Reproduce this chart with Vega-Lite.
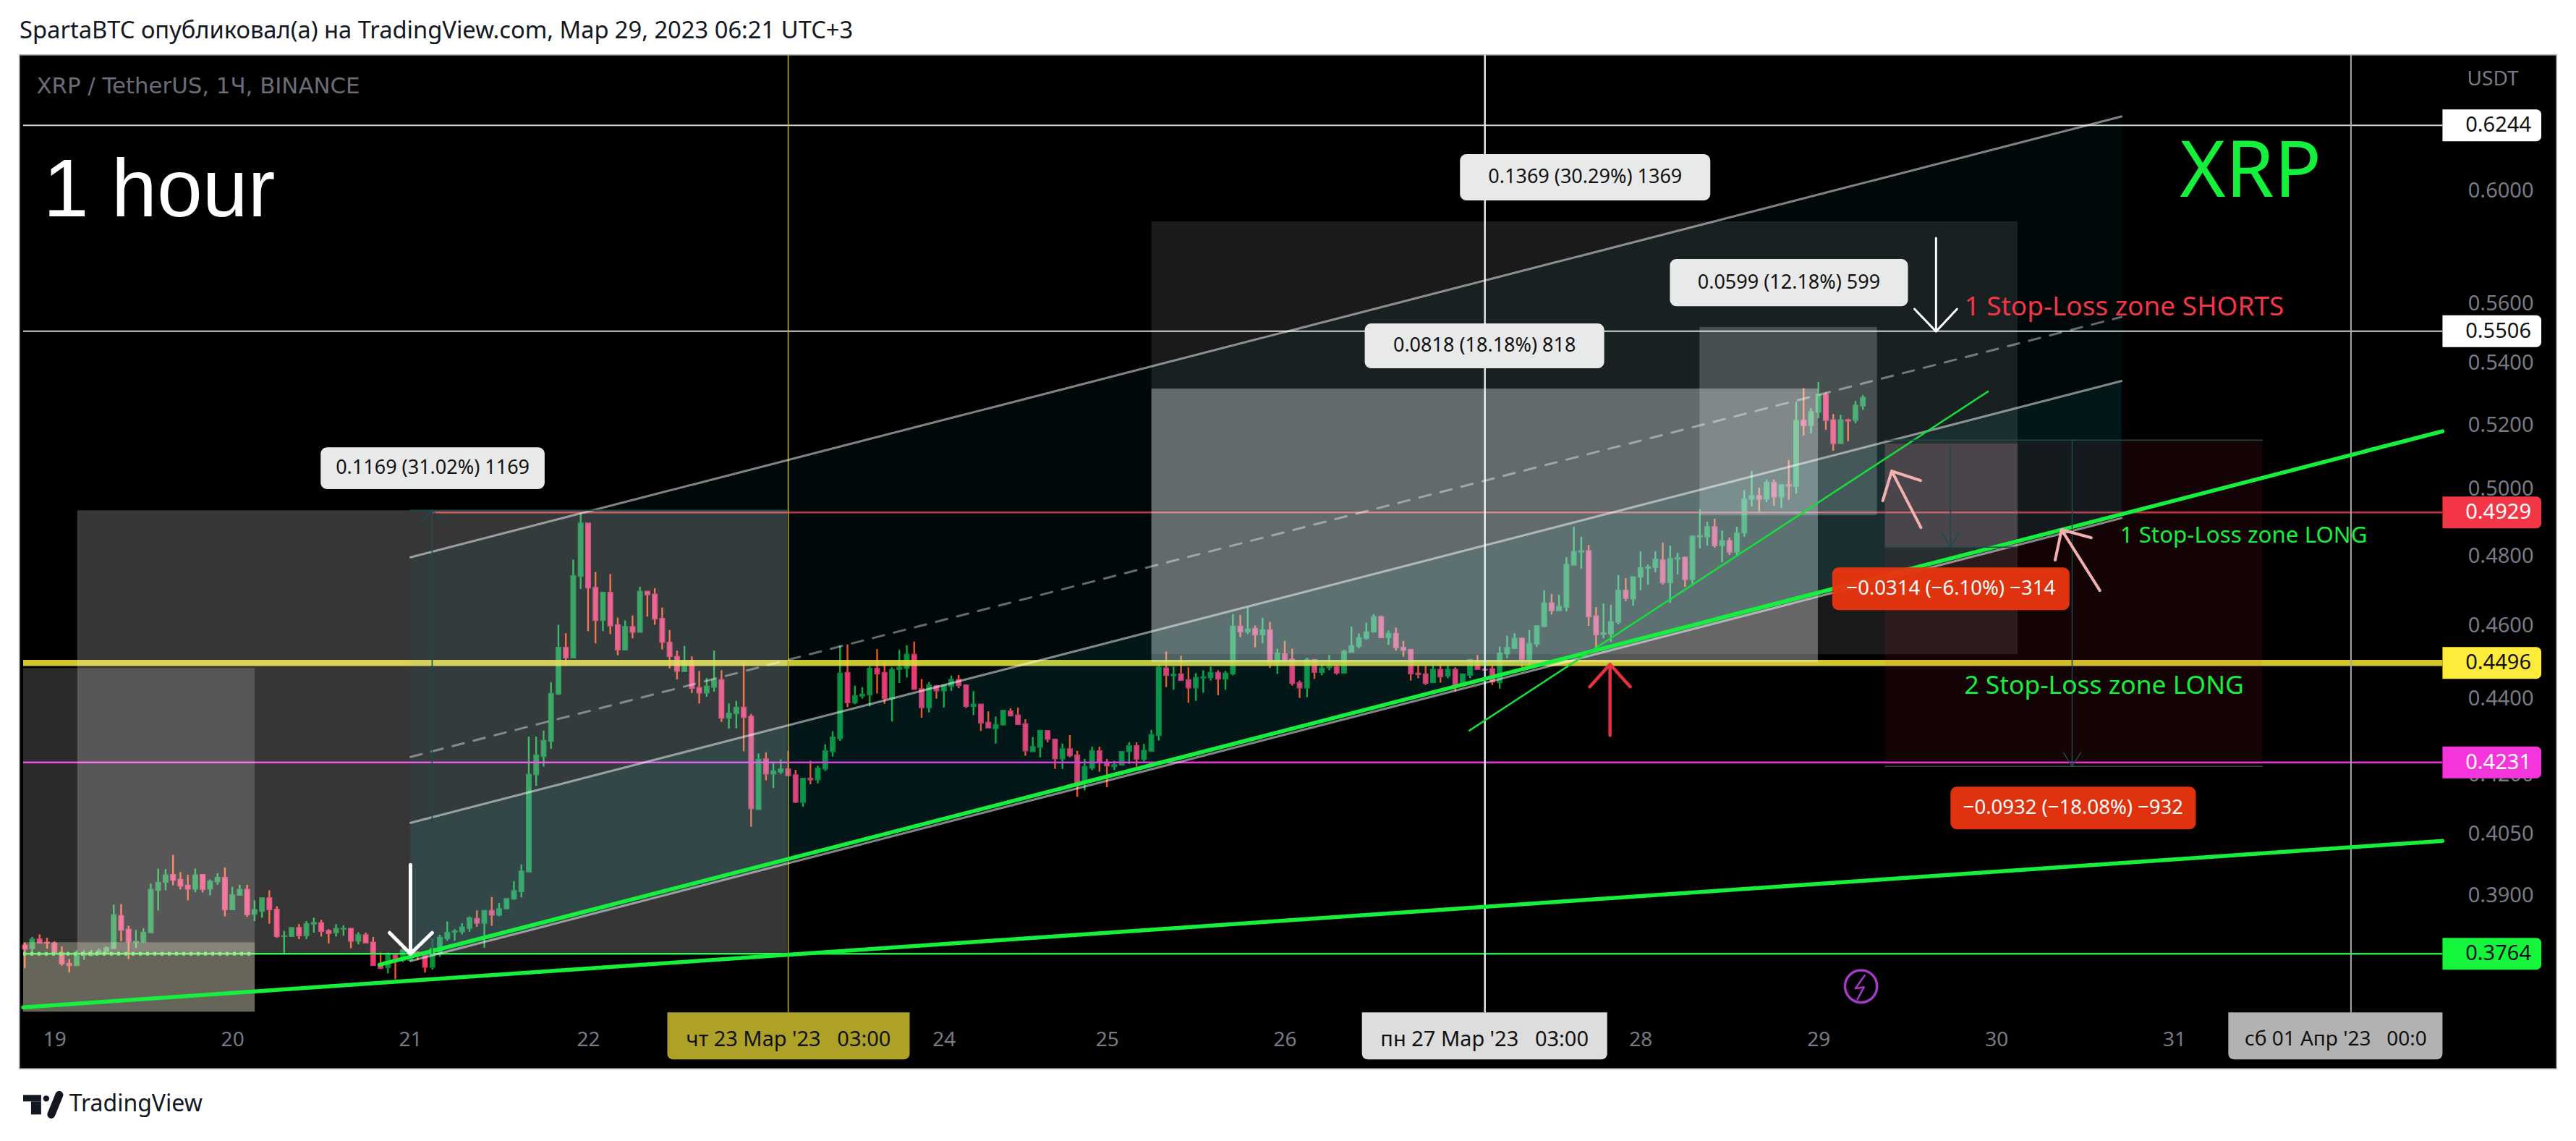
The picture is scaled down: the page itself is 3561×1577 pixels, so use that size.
{
"$schema":"https://vega.github.io/schema/vega-lite/v6.json",
"autosize":{"type":"none"},
"width":3507,"height":1401,
"padding":{"left":27,"top":76,"right":27,"bottom":100},
"background":"#ffffff",
"view":{"fill":"#000000","stroke":"#9598a1","strokeWidth":1.5},
"title":{"text":"SpartaBTC опубликовал(а) на TradingView.com, Мар 29, 2023 06:21 UTC+3","anchor":"start","frame":"group","font":"Noto Sans","fontSize":32.7,"fontWeight":"normal","color":"#131722","offset":11},
"resolve":{"scale":{"color":"independent","fill":"independent","stroke":"independent","strokeWidth":"independent","strokeDash":"independent","size":"independent","opacity":"independent"}},
"datasets":{
"candles":[
{"i":-4,"o":0.3784,"h":0.3790,"l":0.3731,"c":0.3775},{"i":-3,"o":0.3776,"h":0.3803,"l":0.3763,"c":0.3798},{"i":-2,"o":0.3798,"h":0.3809,"l":0.3788,"c":0.3789},{"i":-1,"o":0.3791,"h":0.3801,"l":0.3776,"c":0.3789},
{"i":0,"o":0.3789,"h":0.3793,"l":0.3765,"c":0.3765},{"i":1,"o":0.3767,"h":0.3781,"l":0.3737,"c":0.3741},{"i":2,"o":0.3742,"h":0.3752,"l":0.3721,"c":0.3737},{"i":3,"o":0.3737,"h":0.3772,"l":0.3736,"c":0.3761},
{"i":4,"o":0.3761,"h":0.3772,"l":0.3750,"c":0.3763},{"i":5,"o":0.3761,"h":0.3773,"l":0.3758,"c":0.3763},{"i":6,"o":0.3763,"h":0.3776,"l":0.3761,"c":0.3771},{"i":7,"o":0.3768,"h":0.3781,"l":0.3766,"c":0.3778},
{"i":8,"o":0.3776,"h":0.3879,"l":0.3776,"c":0.3855},{"i":9,"o":0.3853,"h":0.3880,"l":0.3793,"c":0.3819},{"i":10,"o":0.3821,"h":0.3829,"l":0.3752,"c":0.3791},{"i":11,"o":0.3790,"h":0.3819,"l":0.3777,"c":0.3793},
{"i":12,"o":0.3791,"h":0.3823,"l":0.3789,"c":0.3814},{"i":13,"o":0.3813,"h":0.3929,"l":0.3813,"c":0.3915},{"i":14,"o":0.3913,"h":0.3965,"l":0.3865,"c":0.3932},{"i":15,"o":0.3932,"h":0.3964,"l":0.3913,"c":0.3950},
{"i":16,"o":0.3951,"h":0.3999,"l":0.3925,"c":0.3937},{"i":17,"o":0.3939,"h":0.3957,"l":0.3915,"c":0.3923},{"i":18,"o":0.3925,"h":0.3950,"l":0.3889,"c":0.3916},{"i":19,"o":0.3916,"h":0.3965,"l":0.3908,"c":0.3950},
{"i":20,"o":0.3951,"h":0.3951,"l":0.3908,"c":0.3915},{"i":21,"o":0.3916,"h":0.3939,"l":0.3901,"c":0.3935},{"i":22,"o":0.3933,"h":0.3954,"l":0.3926,"c":0.3944},{"i":23,"o":0.3944,"h":0.3968,"l":0.3851,"c":0.3867},
{"i":24,"o":0.3867,"h":0.3921,"l":0.3867,"c":0.3902},{"i":25,"o":0.3901,"h":0.3926,"l":0.3900,"c":0.3915},{"i":26,"o":0.3915,"h":0.3926,"l":0.3850,"c":0.3855},{"i":27,"o":0.3856,"h":0.3889,"l":0.3840,"c":0.3867},
{"i":28,"o":0.3863,"h":0.3895,"l":0.3848,"c":0.3895},{"i":29,"o":0.3895,"h":0.3913,"l":0.3834,"c":0.3867},{"i":30,"o":0.3868,"h":0.3875,"l":0.3801,"c":0.3804},{"i":31,"o":0.3804,"h":0.3817,"l":0.3766,"c":0.3806},
{"i":32,"o":0.3804,"h":0.3825,"l":0.3804,"c":0.3825},{"i":33,"o":0.3825,"h":0.3833,"l":0.3798,"c":0.3806},{"i":34,"o":0.3806,"h":0.3840,"l":0.3798,"c":0.3834},{"i":35,"o":0.3833,"h":0.3848,"l":0.3813,"c":0.3837},
{"i":36,"o":0.3836,"h":0.3843,"l":0.3804,"c":0.3816},{"i":37,"o":0.3818,"h":0.3821,"l":0.3788,"c":0.3811},{"i":38,"o":0.3813,"h":0.3833,"l":0.3804,"c":0.3823},{"i":39,"o":0.3821,"h":0.3830,"l":0.3806,"c":0.3823},
{"i":40,"o":0.3823,"h":0.3823,"l":0.3777,"c":0.3793},{"i":41,"o":0.3793,"h":0.3814,"l":0.3786,"c":0.3808},{"i":42,"o":0.3808,"h":0.3813,"l":0.3788,"c":0.3789},{"i":43,"o":0.3791,"h":0.3803,"l":0.3737,"c":0.3737},
{"i":44,"o":0.3739,"h":0.3767,"l":0.3729,"c":0.3731},{"i":45,"o":0.3732,"h":0.3767,"l":0.3719,"c":0.3762},{"i":46,"o":0.3762,"h":0.3762,"l":0.3706,"c":0.3746},{"i":47,"o":0.3749,"h":0.3776,"l":0.3745,"c":0.3773},
{"i":48,"o":0.3749,"h":0.3775,"l":0.3747,"c":0.3766},{"i":49,"o":0.3768,"h":0.3770,"l":0.3749,"c":0.3759},{"i":50,"o":0.3761,"h":0.3766,"l":0.3721,"c":0.3733},{"i":51,"o":0.3733,"h":0.3799,"l":0.3728,"c":0.3777},
{"i":52,"o":0.3763,"h":0.3808,"l":0.3757,"c":0.3802},{"i":53,"o":0.3799,"h":0.3839,"l":0.3794,"c":0.3814},{"i":54,"o":0.3814,"h":0.3821,"l":0.3794,"c":0.3817},{"i":55,"o":0.3815,"h":0.3835,"l":0.3809,"c":0.3826},
{"i":56,"o":0.3823,"h":0.3851,"l":0.3815,"c":0.3848},{"i":57,"o":0.3846,"h":0.3865,"l":0.3827,"c":0.3835},{"i":58,"o":0.3835,"h":0.3865,"l":0.3778,"c":0.3865},{"i":59,"o":0.3865,"h":0.3897,"l":0.3829,"c":0.3854},
{"i":60,"o":0.3854,"h":0.3883,"l":0.3851,"c":0.3869},{"i":61,"o":0.3869,"h":0.3893,"l":0.3868,"c":0.3893},{"i":62,"o":0.3892,"h":0.3935,"l":0.3890,"c":0.3912},{"i":63,"o":0.3910,"h":0.3975,"l":0.3896,"c":0.3959},
{"i":64,"o":0.3957,"h":0.4298,"l":0.3957,"c":0.4200},{"i":65,"o":0.4199,"h":0.4298,"l":0.4171,"c":0.4250},{"i":66,"o":0.4246,"h":0.4314,"l":0.4220,"c":0.4288},{"i":67,"o":0.4286,"h":0.4443,"l":0.4266,"c":0.4413},
{"i":68,"o":0.4411,"h":0.4602,"l":0.4409,"c":0.4539},{"i":69,"o":0.4539,"h":0.4578,"l":0.4490,"c":0.4510},{"i":70,"o":0.4510,"h":0.4789,"l":0.4510,"c":0.4742},{"i":71,"o":0.4740,"h":0.4929,"l":0.4704,"c":0.4897},
{"i":72,"o":0.4897,"h":0.4897,"l":0.4584,"c":0.4707},{"i":73,"o":0.4708,"h":0.4753,"l":0.4550,"c":0.4614},{"i":74,"o":0.4614,"h":0.4696,"l":0.4584,"c":0.4694},{"i":75,"o":0.4694,"h":0.4747,"l":0.4576,"c":0.4599},
{"i":76,"o":0.4602,"h":0.4622,"l":0.4517,"c":0.4532},{"i":77,"o":0.4532,"h":0.4614,"l":0.4532,"c":0.4597},{"i":78,"o":0.4597,"h":0.4628,"l":0.4564,"c":0.4581},{"i":79,"o":0.4581,"h":0.4710,"l":0.4581,"c":0.4697},
{"i":80,"o":0.4697,"h":0.4697,"l":0.4625,"c":0.4687},{"i":81,"o":0.4689,"h":0.4706,"l":0.4602,"c":0.4618},{"i":82,"o":0.4620,"h":0.4651,"l":0.4533,"c":0.4553},{"i":83,"o":0.4553,"h":0.4587,"l":0.4481,"c":0.4514},
{"i":84,"o":0.4514,"h":0.4530,"l":0.4451,"c":0.4473},{"i":85,"o":0.4472,"h":0.4543,"l":0.4471,"c":0.4503},{"i":86,"o":0.4503,"h":0.4514,"l":0.4414,"c":0.4427},{"i":87,"o":0.4429,"h":0.4474,"l":0.4386,"c":0.4414},
{"i":88,"o":0.4414,"h":0.4455,"l":0.4404,"c":0.4433},{"i":89,"o":0.4430,"h":0.4530,"l":0.4418,"c":0.4450},{"i":90,"o":0.4450,"h":0.4476,"l":0.4337,"c":0.4347},{"i":91,"o":0.4347,"h":0.4386,"l":0.4319,"c":0.4360},
{"i":92,"o":0.4359,"h":0.4393,"l":0.4320,"c":0.4376},{"i":93,"o":0.4376,"h":0.4501,"l":0.4260,"c":0.4349},{"i":94,"o":0.4352,"h":0.4358,"l":0.4068,"c":0.4113},{"i":95,"o":0.4111,"h":0.4254,"l":0.4110,"c":0.4239},
{"i":96,"o":0.4240,"h":0.4257,"l":0.4185,"c":0.4201},{"i":97,"o":0.4201,"h":0.4229,"l":0.4165,"c":0.4209},{"i":98,"o":0.4206,"h":0.4239,"l":0.4201,"c":0.4214},{"i":99,"o":0.4214,"h":0.4261,"l":0.4197,"c":0.4197},
{"i":100,"o":0.4199,"h":0.4212,"l":0.4127,"c":0.4129},{"i":101,"o":0.4129,"h":0.4190,"l":0.4118,"c":0.4190},{"i":102,"o":0.4190,"h":0.4235,"l":0.4175,"c":0.4186},{"i":103,"o":0.4186,"h":0.4222,"l":0.4177,"c":0.4216},
{"i":104,"o":0.4214,"h":0.4278,"l":0.4209,"c":0.4261},{"i":105,"o":0.4259,"h":0.4312,"l":0.4246,"c":0.4297},{"i":106,"o":0.4293,"h":0.4544,"l":0.4287,"c":0.4468},{"i":107,"o":0.4470,"h":0.4547,"l":0.4376,"c":0.4388},
{"i":108,"o":0.4388,"h":0.4434,"l":0.4384,"c":0.4407},{"i":109,"o":0.4406,"h":0.4430,"l":0.4399,"c":0.4411},{"i":110,"o":0.4409,"h":0.4487,"l":0.4378,"c":0.4481},{"i":111,"o":0.4481,"h":0.4534,"l":0.4413,"c":0.4466},
{"i":112,"o":0.4470,"h":0.4500,"l":0.4385,"c":0.4399},{"i":113,"o":0.4399,"h":0.4484,"l":0.4338,"c":0.4478},{"i":114,"o":0.4478,"h":0.4532,"l":0.4441,"c":0.4484},{"i":115,"o":0.4481,"h":0.4545,"l":0.4456,"c":0.4520},
{"i":116,"o":0.4520,"h":0.4555,"l":0.4424,"c":0.4424},{"i":117,"o":0.4426,"h":0.4452,"l":0.4348,"c":0.4375},{"i":118,"o":0.4375,"h":0.4444,"l":0.4362,"c":0.4436},{"i":119,"o":0.4434,"h":0.4436,"l":0.4399,"c":0.4420},
{"i":120,"o":0.4420,"h":0.4436,"l":0.4375,"c":0.4436},{"i":121,"o":0.4432,"h":0.4461,"l":0.4420,"c":0.4451},{"i":122,"o":0.4451,"h":0.4463,"l":0.4427,"c":0.4434},{"i":123,"o":0.4436,"h":0.4438,"l":0.4374,"c":0.4378},
{"i":124,"o":0.4378,"h":0.4419,"l":0.4355,"c":0.4384},{"i":125,"o":0.4384,"h":0.4384,"l":0.4313,"c":0.4334},{"i":126,"o":0.4336,"h":0.4365,"l":0.4321,"c":0.4321},{"i":127,"o":0.4319,"h":0.4351,"l":0.4280,"c":0.4330},
{"i":128,"o":0.4329,"h":0.4368,"l":0.4327,"c":0.4368},{"i":129,"o":0.4366,"h":0.4373,"l":0.4351,"c":0.4353},{"i":130,"o":0.4355,"h":0.4375,"l":0.4329,"c":0.4330},{"i":131,"o":0.4332,"h":0.4344,"l":0.4248,"c":0.4261},
{"i":132,"o":0.4259,"h":0.4297,"l":0.4259,"c":0.4272},{"i":133,"o":0.4270,"h":0.4316,"l":0.4244,"c":0.4314},{"i":134,"o":0.4314,"h":0.4314,"l":0.4283,"c":0.4291},{"i":135,"o":0.4291,"h":0.4293,"l":0.4214,"c":0.4240},
{"i":136,"o":0.4240,"h":0.4280,"l":0.4214,"c":0.4266},{"i":137,"o":0.4266,"h":0.4302,"l":0.4244,"c":0.4248},{"i":138,"o":0.4250,"h":0.4261,"l":0.4143,"c":0.4178},{"i":139,"o":0.4178,"h":0.4240,"l":0.4159,"c":0.4220},
{"i":140,"o":0.4216,"h":0.4272,"l":0.4211,"c":0.4261},{"i":141,"o":0.4261,"h":0.4272,"l":0.4207,"c":0.4231},{"i":142,"o":0.4229,"h":0.4240,"l":0.4167,"c":0.4222},{"i":143,"o":0.4220,"h":0.4235,"l":0.4211,"c":0.4225},
{"i":144,"o":0.4224,"h":0.4259,"l":0.4224,"c":0.4259},{"i":145,"o":0.4259,"h":0.4283,"l":0.4227,"c":0.4274},{"i":146,"o":0.4274,"h":0.4283,"l":0.4220,"c":0.4239},{"i":147,"o":0.4239,"h":0.4279,"l":0.4233,"c":0.4262},
{"i":148,"o":0.4260,"h":0.4316,"l":0.4260,"c":0.4303},{"i":149,"o":0.4301,"h":0.4493,"l":0.4288,"c":0.4484},{"i":150,"o":0.4482,"h":0.4527,"l":0.4430,"c":0.4462},{"i":151,"o":0.4461,"h":0.4486,"l":0.4423,"c":0.4465},
{"i":152,"o":0.4466,"h":0.4516,"l":0.4448,"c":0.4448},{"i":153,"o":0.4450,"h":0.4484,"l":0.4388,"c":0.4428},{"i":154,"o":0.4428,"h":0.4468,"l":0.4393,"c":0.4456},{"i":155,"o":0.4455,"h":0.4476,"l":0.4415,"c":0.4458},
{"i":156,"o":0.4456,"h":0.4486,"l":0.4448,"c":0.4470},{"i":157,"o":0.4470,"h":0.4476,"l":0.4408,"c":0.4452},{"i":158,"o":0.4452,"h":0.4474,"l":0.4423,"c":0.4468},{"i":159,"o":0.4466,"h":0.4632,"l":0.4462,"c":0.4598},
{"i":160,"o":0.4598,"h":0.4630,"l":0.4567,"c":0.4582},{"i":161,"o":0.4582,"h":0.4651,"l":0.4576,"c":0.4590},{"i":162,"o":0.4592,"h":0.4600,"l":0.4539,"c":0.4574},{"i":163,"o":0.4574,"h":0.4622,"l":0.4550,"c":0.4588},
{"i":164,"o":0.4588,"h":0.4610,"l":0.4482,"c":0.4496},{"i":165,"o":0.4496,"h":0.4535,"l":0.4466,"c":0.4523},{"i":166,"o":0.4521,"h":0.4557,"l":0.4497,"c":0.4501},{"i":167,"o":0.4507,"h":0.4535,"l":0.4434,"c":0.4440},
{"i":168,"o":0.4442,"h":0.4448,"l":0.4401,"c":0.4428},{"i":169,"o":0.4428,"h":0.4510,"l":0.4403,"c":0.4505},{"i":170,"o":0.4505,"h":0.4505,"l":0.4452,"c":0.4470},{"i":171,"o":0.4470,"h":0.4497,"l":0.4462,"c":0.4482},
{"i":172,"o":0.4483,"h":0.4518,"l":0.4476,"c":0.4486},{"i":173,"o":0.4486,"h":0.4490,"l":0.4464,"c":0.4468},{"i":174,"o":0.4468,"h":0.4532,"l":0.4468,"c":0.4528},{"i":175,"o":0.4526,"h":0.4597,"l":0.4526,"c":0.4544},
{"i":176,"o":0.4542,"h":0.4578,"l":0.4536,"c":0.4566},{"i":177,"o":0.4564,"h":0.4608,"l":0.4560,"c":0.4582},{"i":178,"o":0.4582,"h":0.4632,"l":0.4580,"c":0.4625},{"i":179,"o":0.4625,"h":0.4628,"l":0.4566,"c":0.4566},
{"i":180,"o":0.4566,"h":0.4586,"l":0.4546,"c":0.4578},{"i":181,"o":0.4578,"h":0.4594,"l":0.4530,"c":0.4538},{"i":182,"o":0.4539,"h":0.4557,"l":0.4513,"c":0.4531},{"i":183,"o":0.4533,"h":0.4535,"l":0.4448,"c":0.4466},
{"i":184,"o":0.4468,"h":0.4490,"l":0.4454,"c":0.4464},{"i":185,"o":0.4466,"h":0.4488,"l":0.4436,"c":0.4440},{"i":186,"o":0.4442,"h":0.4490,"l":0.4442,"c":0.4478},{"i":187,"o":0.4478,"h":0.4492,"l":0.4442,"c":0.4458},
{"i":188,"o":0.4460,"h":0.4490,"l":0.4454,"c":0.4478},{"i":189,"o":0.4478,"h":0.4484,"l":0.4418,"c":0.4436},{"i":190,"o":0.4440,"h":0.4466,"l":0.4440,"c":0.4466},{"i":191,"o":0.4462,"h":0.4507,"l":0.4454,"c":0.4505},
{"i":192,"o":0.4503,"h":0.4518,"l":0.4478,"c":0.4478},{"i":193,"o":0.4479,"h":0.4479,"l":0.4476,"c":0.4476},{"i":194,"o":0.4480,"h":0.4488,"l":0.4436,"c":0.4444},{"i":195,"o":0.4442,"h":0.4541,"l":0.4426,"c":0.4523},
{"i":196,"o":0.4521,"h":0.4571,"l":0.4509,"c":0.4539},{"i":197,"o":0.4536,"h":0.4578,"l":0.4534,"c":0.4564},{"i":198,"o":0.4564,"h":0.4566,"l":0.4484,"c":0.4506},{"i":199,"o":0.4506,"h":0.4587,"l":0.4488,"c":0.4550},
{"i":200,"o":0.4548,"h":0.4599,"l":0.4540,"c":0.4599},{"i":201,"o":0.4597,"h":0.4700,"l":0.4597,"c":0.4664},{"i":202,"o":0.4664,"h":0.4689,"l":0.4631,"c":0.4642},{"i":203,"o":0.4642,"h":0.4687,"l":0.4642,"c":0.4654},
{"i":204,"o":0.4652,"h":0.4796,"l":0.4640,"c":0.4775},{"i":205,"o":0.4773,"h":0.4886,"l":0.4773,"c":0.4813},{"i":206,"o":0.4811,"h":0.4856,"l":0.4762,"c":0.4815},{"i":207,"o":0.4815,"h":0.4832,"l":0.4599,"c":0.4625},
{"i":208,"o":0.4627,"h":0.4652,"l":0.4540,"c":0.4574},{"i":209,"o":0.4575,"h":0.4662,"l":0.4564,"c":0.4580},{"i":210,"o":0.4576,"h":0.4658,"l":0.4554,"c":0.4611},{"i":211,"o":0.4609,"h":0.4744,"l":0.4603,"c":0.4700},
{"i":212,"o":0.4700,"h":0.4735,"l":0.4669,"c":0.4677},{"i":213,"o":0.4675,"h":0.4739,"l":0.4656,"c":0.4739},{"i":214,"o":0.4738,"h":0.4813,"l":0.4700,"c":0.4765},{"i":215,"o":0.4764,"h":0.4775,"l":0.4716,"c":0.4768},
{"i":216,"o":0.4766,"h":0.4813,"l":0.4752,"c":0.4790},{"i":217,"o":0.4788,"h":0.4839,"l":0.4716,"c":0.4722},{"i":218,"o":0.4722,"h":0.4830,"l":0.4664,"c":0.4792},{"i":219,"o":0.4790,"h":0.4809,"l":0.4746,"c":0.4794},
{"i":220,"o":0.4796,"h":0.4798,"l":0.4710,"c":0.4731},{"i":221,"o":0.4731,"h":0.4860,"l":0.4718,"c":0.4858},{"i":222,"o":0.4856,"h":0.4938,"l":0.4822,"c":0.4860},{"i":223,"o":0.4856,"h":0.4901,"l":0.4830,"c":0.4886},
{"i":224,"o":0.4886,"h":0.4910,"l":0.4824,"c":0.4830},{"i":225,"o":0.4830,"h":0.4875,"l":0.4781,"c":0.4845},{"i":226,"o":0.4845,"h":0.4854,"l":0.4803,"c":0.4811},{"i":227,"o":0.4811,"h":0.4886,"l":0.4798,"c":0.4868},
{"i":228,"o":0.4867,"h":0.4997,"l":0.4856,"c":0.4969},{"i":229,"o":0.4969,"h":0.5055,"l":0.4947,"c":0.4980},{"i":230,"o":0.4980,"h":0.5004,"l":0.4927,"c":0.4969},{"i":231,"o":0.4969,"h":0.5029,"l":0.4960,"c":0.5020},
{"i":232,"o":0.5020,"h":0.5029,"l":0.4949,"c":0.4976},{"i":233,"o":0.4976,"h":0.5015,"l":0.4943,"c":0.5013},{"i":234,"o":0.5013,"h":0.5089,"l":0.4967,"c":0.5009},{"i":235,"o":0.5008,"h":0.5274,"l":0.4986,"c":0.5214},
{"i":236,"o":0.5214,"h":0.5318,"l":0.5166,"c":0.5198},{"i":237,"o":0.5198,"h":0.5253,"l":0.5173,"c":0.5242},{"i":238,"o":0.5240,"h":0.5338,"l":0.5221,"c":0.5298},{"i":239,"o":0.5298,"h":0.5305,"l":0.5184,"c":0.5214},
{"i":240,"o":0.5216,"h":0.5234,"l":0.5118,"c":0.5141},{"i":241,"o":0.5141,"h":0.5232,"l":0.5141,"c":0.5216},{"i":242,"o":0.5216,"h":0.5219,"l":0.5148,"c":0.5212},{"i":243,"o":0.5214,"h":0.5276,"l":0.5205,"c":0.5262},
{"i":244,"o":0.5260,"h":0.5295,"l":0.5248,"c":0.5288}
],
"levels":[
{"g":"a","k":"white","x":-4.22,"p":0.6244},{"g":"a","k":"white","x":322.2,"p":0.6244},
{"g":"b","k":"white","x":-4.22,"p":0.5506},{"g":"b","k":"white","x":322.2,"p":0.5506},
{"g":"c","k":"red","x":50.96,"p":0.4929},{"g":"c","k":"red","x":322.2,"p":0.4929},
{"g":"d","k":"yellow","x":-4.22,"p":0.4496},{"g":"d","k":"yellow","x":322.2,"p":0.4496},
{"g":"e","k":"magenta","x":-4.22,"p":0.4231},{"g":"e","k":"magenta","x":322.2,"p":0.4231},
{"g":"f","k":"green","x":-4.22,"p":0.3764},{"g":"f","k":"green","x":322.2,"p":0.3764},
{"g":"g","k":"dot","x":-4.22,"p":0.3764},{"g":"g","k":"dot","x":27.02,"p":0.3764},
{"g":"h","k":"vyellow","x":99,"p":0.36316},{"g":"h","k":"vyellow","x":99,"p":0.6518},
{"g":"i","k":"vwhite","x":193,"p":0.36316},{"g":"i","k":"vwhite","x":193,"p":0.6518},
{"g":"j","k":"vgrey","x":309.85,"p":0.36316},{"g":"j","k":"vgrey","x":309.85,"p":0.6518}
],
"boxes":[
{"k":"B1","x0":-4.22,"x1":27.02,"p0":0.36332,"p1":0.44821},
{"k":"A","x0":3.08,"x1":98.84,"p0":0.3764,"p1":0.49357},
{"k":"B2","x0":-4.22,"x1":27.02,"p0":0.36332,"p1":0.37907},
{"k":"C","x0":148.0,"x1":264.87,"p0":0.45200,"p1":0.58877},
{"k":"D","x0":148.0,"x1":237.92,"p0":0.44980,"p1":0.53162},
{"k":"E","x0":221.96,"x1":245.9,"p0":0.49204,"p1":0.55198},
{"k":"G","x0":246.96,"x1":297.87,"p0":0.42206,"p1":0.51519},
{"k":"F","x0":246.96,"x1":264.87,"p0":0.48256,"p1":0.51405}
],
"bands":[
{"b":"low","x":48.04,"p0":0.37474,"p1":0.40776},{"b":"low","x":278.89,"p0":0.49118,"p1":0.53409},
{"b":"up","x":48.04,"p0":0.40776,"p1":0.47958},{"b":"up","x":278.89,"p0":0.53409,"p1":0.62776}
],
"lines":[
{"g":"ch1","k":"chan","x":48.04,"p":0.47958,"n":1},{"g":"ch1","k":"chan","x":278.89,"p":0.62776,"n":2},
{"g":"ch2","k":"chan","x":48.04,"p":0.40776,"n":1},{"g":"ch2","k":"chan","x":278.89,"p":0.53409,"n":2},
{"g":"ch3","k":"chan","x":48.04,"p":0.37474,"n":1},{"g":"ch3","k":"chan","x":278.89,"p":0.49118,"n":2},
{"g":"ch4","k":"dash","x":48.04,"p":0.42450,"n":1},{"g":"ch4","k":"dash","x":278.89,"p":0.55540,"n":2},
{"g":"tr1","k":"trend","x":43.85,"p":0.37391,"n":1},{"g":"tr1","k":"trend","x":322.2,"p":0.51794,"n":2},
{"g":"tr2","k":"trend","x":-4.22,"p":0.36429,"n":1},{"g":"tr2","k":"trend","x":322.2,"p":0.40327,"n":2},
{"g":"tr3","k":"thin","x":190.91,"p":0.43140,"n":1},{"g":"tr3","k":"thin","x":260.88,"p":0.53068,"n":2},
{"g":"r1","k":"range","x":50.96,"p":0.3764,"n":1},{"g":"r1","k":"range","x":50.96,"p":0.49357,"n":2},
{"g":"r1h","k":"range","x":49.21,"p":0.48922,"n":1},{"g":"r1h","k":"range","x":50.96,"p":0.49357,"n":2},{"g":"r1h","k":"range","x":52.71,"p":0.48922,"n":3},
{"g":"r1t","k":"range","x":48.04,"p":0.49357,"n":1},{"g":"r1t","k":"range","x":98.84,"p":0.49357,"n":2},
{"g":"r2","k":"range","x":255.82,"p":0.51405,"n":1},{"g":"r2","k":"range","x":255.82,"p":0.48256,"n":2},
{"g":"r2h","k":"range","x":254.65,"p":0.48685,"n":1},{"g":"r2h","k":"range","x":255.82,"p":0.48256,"n":2},{"g":"r2h","k":"range","x":256.99,"p":0.48685,"n":3},
{"g":"r2b","k":"range","x":246.96,"p":0.48256,"n":1},{"g":"r2b","k":"range","x":264.87,"p":0.48256,"n":2},
{"g":"r3","k":"range","x":272.23,"p":0.51519,"n":1},{"g":"r3","k":"range","x":272.23,"p":0.42206,"n":2},
{"g":"r3h","k":"range","x":271.06,"p":0.42562,"n":1},{"g":"r3h","k":"range","x":272.23,"p":0.42206,"n":2},{"g":"r3h","k":"range","x":273.4,"p":0.42562,"n":3},
{"g":"r3t","k":"range","x":246.96,"p":0.51519,"n":1},{"g":"r3t","k":"range","x":297.87,"p":0.51519,"n":2},
{"g":"r3b","k":"range","x":246.96,"p":0.42206,"n":1},{"g":"r3b","k":"range","x":297.87,"p":0.42206,"n":2},
{"g":"w1","k":"aw1","x":48.04,"p":0.39744,"n":1},{"g":"w1","k":"aw1","x":48.04,"p":0.3764,"n":2},{"g":"w1","k":"aw1","x":45.22,"p":0.38126,"n":3},{"g":"w1","k":"aw1","x":48.04,"p":0.3764,"n":4},{"g":"w1","k":"aw1","x":50.96,"p":0.38126,"n":5},
{"g":"w2","k":"aw2","x":253.87,"p":0.58281,"n":1},{"g":"w2","k":"aw2","x":253.87,"p":0.55051,"n":2},{"g":"w2","k":"aw2","x":250.96,"p":0.55811,"n":3},{"g":"w2","k":"aw2","x":253.87,"p":0.55051,"n":4},{"g":"w2","k":"aw2","x":256.7,"p":0.55811,"n":5},
{"g":"r","k":"ared","x":209.88,"p":0.43016,"n":1},{"g":"r","k":"ared","x":209.88,"p":0.44921,"n":2},{"g":"r","k":"ared","x":207.16,"p":0.44310,"n":3},{"g":"r","k":"ared","x":209.88,"p":0.44921,"n":4},{"g":"r","k":"ared","x":212.61,"p":0.44310,"n":5},
{"g":"p1","k":"apink","x":251.83,"p":0.48836,"n":1},{"g":"p1","k":"apink","x":247.89,"p":0.50549,"n":2},{"g":"p1","k":"apink","x":246.68,"p":0.49641,"n":3},{"g":"p1","k":"apink","x":247.89,"p":0.50549,"n":4},{"g":"p1","k":"apink","x":251.78,"p":0.50259,"n":5},
{"g":"p2","k":"apink","x":275.97,"p":0.46993,"n":1},{"g":"p2","k":"apink","x":270.81,"p":0.48770,"n":2},{"g":"p2","k":"apink","x":269.94,"p":0.47874,"n":3},{"g":"p2","k":"apink","x":270.81,"p":0.48770,"n":4},{"g":"p2","k":"apink","x":274.8,"p":0.48534,"n":5},
{"g":"bolt","k":"bolt","x":244.24,"p":0.37144,"n":1},{"g":"bolt","k":"bolt","x":242.98,"p":0.36850,"n":2},{"g":"bolt","k":"bolt","x":244.14,"p":0.36882,"n":3},{"g":"bolt","k":"bolt","x":243.26,"p":0.36606,"n":4},
{"g":"logo","k":"logo","x":0.65,"p":0.34531,"n":1},{"g":"logo","k":"logo","x":-0.43,"p":0.34121,"n":2}
],
"pills":[
{"k":"light","x0":35.92,"x1":66.14,"p0":0.49994,"p1":0.51292},
{"k":"light","x0":189.64,"x1":223.41,"p0":0.59638,"p1":0.61349},
{"k":"light","x0":176.79,"x1":209.10,"p0":0.53824,"p1":0.55320},
{"k":"light","x0":217.96,"x1":250.08,"p0":0.55908,"p1":0.57539},
{"k":"orange","x0":239.86,"x1":271.88,"p0":0.46435,"p1":0.47662},
{"k":"orange","x0":255.82,"x1":288.92,"p0":0.40614,"p1":0.41687}
],
"tags":[
{"k":"white","p0":0.61836,"p1":0.63051},{"k":"white","p0":0.54527,"p1":0.55598},
{"k":"red","p0":0.48813,"p1":0.49772},{"k":"yellow","p0":0.44525,"p1":0.45399},
{"k":"magenta","p0":0.41900,"p1":0.42723},{"k":"green","p0":0.37276,"p1":0.38008}
],
"timeTags":[
{"k":"y","x0":82.69,"x1":115.39},{"k":"w","x0":176.41,"x1":209.5},{"k":"g","x0":293.3,"x1":322.2}
],
"logoRects":[
{"x0":-4.22,"x1":-1.79,"p0":0.34394,"p1":0.34531},
{"x0":-3.15,"x1":-1.79,"p0":0.34121,"p1":0.34394}
],
"logoDot":[{"x":-1.11,"p":0.34455}],
"ring":[{"x":243.75,"p":0.36899}],
"textsCenter":[
{"t":"0.1169 (31.02%) 1169","k":"dark","x":51.03,"p":0.50639},
{"t":"0.1369 (30.29%) 1369","k":"dark","x":206.53,"p":0.60487},
{"t":"0.0818 (18.18%) 818","k":"dark","x":192.95,"p":0.54567},
{"t":"0.0599 (12.18%) 599","k":"dark","x":234.02,"p":0.56719},
{"t":"−0.0314 (−6.10%) −314","k":"wh","x":255.87,"p":0.47045},
{"t":"−0.0932 (−18.08%) −932","k":"wh","x":272.37,"p":0.41147},
{"t":"USDT","k":"usdt","x":329.0,"p":0.642},
{"t":"XRP","k":"xrp","x":296.3,"p":0.60621},
{"t":"чт 23 Мар '23\u00a0\u00a0\u00a003:00","k":"time","x":99.04,"p":0.35711},
{"t":"пн 27 Мар '23\u00a0\u00a0\u00a003:00","k":"time","x":192.95,"p":0.35711}
],
"textsStart":[
{"t":"1 Stop-Loss zone SHORTS","k":"short","x":257.68,"p":0.5586},
{"t":"1 Stop-Loss zone LONG","k":"longS","x":278.69,"p":0.48577},
{"t":"2 Stop-Loss zone LONG","k":"longB","x":257.68,"p":0.4433},
{"t":"TradingView","k":"foot","x":2.0,"p":0.34333},
{"t":"сб 01 Апр '23\u00a0\u00a0\u00a000:0","k":"time","x":295.5,"p":0.35711}
],
"sym":[{"t":"XRP / TetherUS, 1Ч, BINANCE","x":-2.42,"p":0.63917}],
"hour":[{"t":"1 hour","x":-1.5,"p":0.5906}],
"priceText":[
{"t":"0.6244","k":"b","p":0.6244},{"t":"0.5506","k":"b","p":0.5506},{"t":"0.4929","k":"w","p":0.4929},
{"t":"0.4496","k":"b","p":0.4496},{"t":"0.4231","k":"w","p":0.4231},{"t":"0.3764","k":"b","p":0.3764}
]
},
"layer":[
{"data":{"name":"candles"},"mark":{"type":"rule","strokeWidth":2.4},
 "encoding":{
  "x":{"field":"i","type":"quantitative","scale":{"domain":[-4.22,337.09],"nice":false,"zero":false},"axis":{"title":null,"grid":false,"domain":false,"ticks":false,"values":[0,24,48,72,120,142,166,214,238,262,286],"labelExpr":"datum.value<=120 ? ''+(19+datum.value/24) : ''+(25+(datum.value-142)/24)","labelFont":"Noto Sans","labelFontSize":28,"labelColor":"#787b86","labelPadding":-40,"labelBaseline":"middle","labelFlush":false,"labelOverlap":false}},
  "y":{"field":"l","type":"quantitative","scale":{"type":"log","domain":[0.3509,0.6518],"nice":false},"axis":{"title":null,"orient":"right","grid":false,"domain":false,"ticks":false,"values":[0.6,0.56,0.54,0.52,0.5,0.48,0.46,0.44,0.42,0.405,0.39],"format":".4f","labelFont":"Noto Sans","labelFontSize":29,"labelColor":"#787b86","labelAlign":"right","labelPadding":-32,"labelBaseline":"middle","labelOverlap":false}},
  "y2":{"field":"h"},
  "color":{"condition":{"test":"datum.c>=datum.o","value":"#0ca83c"},"value":"#ff4d17"}}},
{"data":{"name":"candles"},"mark":{"type":"bar","size":6.6,"strokeWidth":1.4},
 "encoding":{
  "x":{"field":"i","type":"quantitative"},
  "y":{"field":"o","type":"quantitative"},
  "y2":{"field":"c"},
  "fill":{"condition":{"test":"datum.c>=datum.o","value":"#0a9038"},"value":"#f0386a"},
  "stroke":{"condition":{"test":"datum.c>=datum.o","value":"#0a7d32"},"value":"#d0286a"}}},
{"data":{"name":"levels"},"mark":{"type":"line","strokeCap":"butt"},
 "encoding":{
  "x":{"field":"x","type":"quantitative"},
  "y":{"field":"p","type":"quantitative"},
  "detail":{"field":"g"},
  "color":{"field":"k","type":"nominal","legend":null,"scale":{"domain":["white","red","yellow","magenta","green","dot","vyellow","vwhite","vgrey"],"range":["#d4d4d4","#c8323f","rgba(232,220,50,0.9)","#ee2ee0","#14f03c","#3fe04a","#c8b428","#e8e8e8","#a8a8a8"]}},
  "strokeWidth":{"field":"k","type":"nominal","legend":null,"scale":{"type":"ordinal","domain":["white","red","yellow","magenta","green","dot","vyellow","vwhite","vgrey"],"range":[2,2.5,8.5,2.5,2.5,5,1.5,2.5,2]}},
  "strokeDash":{"field":"k","type":"nominal","legend":null,"scale":{"domain":["white","red","yellow","magenta","green","dot","vyellow","vwhite","vgrey"],"range":[[1,0],[1,0],[1,0],[1,0],[1,0],[4,6],[1,0],[1,0],[1,0]]}}}},
{"data":{"name":"boxes"},"mark":{"type":"rect"},
 "encoding":{
  "x":{"field":"x0","type":"quantitative"},"x2":{"field":"x1"},
  "y":{"field":"p0","type":"quantitative"},"y2":{"field":"p1"},
  "fill":{"field":"k","type":"nominal","legend":null,"scale":{"domain":["B1","A","B2","C","D","E","G","F"],"range":["#ffffff","#ffffff","#f5efca","#ffffff","#ffffff","#ffffff","#ff3040","#e19baa"]}},
  "opacity":{"field":"k","type":"nominal","legend":null,"scale":{"type":"ordinal","domain":["B1","A","B2","C","D","E","G","F"],"range":[0.165,0.21,0.3,0.1,0.333,0.21,0.08,0.2]}}}},
{"data":{"name":"bands"},"mark":{"type":"area","orient":"vertical"},
 "encoding":{
  "x":{"field":"x","type":"quantitative"},
  "y":{"field":"p0","type":"quantitative"},"y2":{"field":"p1"},
  "detail":{"field":"b"},
  "fill":{"value":"#1fd0e0"},
  "opacity":{"field":"b","type":"nominal","legend":null,"scale":{"type":"ordinal","domain":["low","up"],"range":[0.11,0.04]}}}},
{"data":{"name":"lines"},"mark":{"type":"line","strokeCap":"round","strokeJoin":"round"},
 "encoding":{
  "x":{"field":"x","type":"quantitative"},
  "y":{"field":"p","type":"quantitative"},
  "detail":{"field":"g"},
  "order":{"field":"n"},
  "color":{"field":"k","type":"nominal","legend":null,"scale":{"domain":["chan","dash","trend","thin","range","aw1","aw2","ared","apink","bolt","logo"],"range":["rgba(255,255,255,0.5)","rgba(255,255,255,0.4)","#14f03c","#14e03c","#1c4a4e","#ffffff","#ffffff","#e8303f","#f4b0b0","#a838c8","#131722"]}},
  "strokeWidth":{"field":"k","type":"nominal","legend":null,"scale":{"type":"ordinal","domain":["chan","dash","trend","thin","range","aw1","aw2","ared","apink","bolt","logo"],"range":[3,3,5.5,2.5,1.5,5,3,4.5,4,2.5,11]}},
  "strokeDash":{"field":"k","type":"nominal","legend":null,"scale":{"domain":["chan","dash","trend","thin","range","aw1","aw2","ared","apink","bolt","logo"],"range":[[1,0],[16,14],[1,0],[1,0],[1,0],[1,0],[1,0],[1,0],[1,0],[1,0],[1,0]]}}}},
{"data":{"name":"ring"},"mark":{"type":"point","shape":"circle","filled":false,"size":1963,"strokeWidth":3.5,"color":"#a838c8","opacity":1},
 "encoding":{"x":{"field":"x","type":"quantitative"},"y":{"field":"p","type":"quantitative"}}},
{"data":{"name":"logoRects"},"mark":{"type":"rect","color":"#131722"},
 "encoding":{"x":{"field":"x0","type":"quantitative"},"x2":{"field":"x1"},"y":{"field":"p0","type":"quantitative"},"y2":{"field":"p1"}}},
{"data":{"name":"logoDot"},"mark":{"type":"point","shape":"circle","filled":true,"size":70,"color":"#131722","opacity":1},
 "encoding":{"x":{"field":"x","type":"quantitative"},"y":{"field":"p","type":"quantitative"}}},
{"data":{"name":"pills"},"mark":{"type":"rect","cornerRadius":9},
 "encoding":{
  "x":{"field":"x0","type":"quantitative"},"x2":{"field":"x1"},
  "y":{"field":"p0","type":"quantitative"},"y2":{"field":"p1"},
  "fill":{"field":"k","type":"nominal","legend":null,"scale":{"domain":["light","orange"],"range":["#e8e9e9","rgba(232,52,15,0.96)"]}}}},
{"data":{"name":"timeTags"},"mark":{"type":"rect","cornerRadiusBottomLeft":8,"cornerRadiusBottomRight":8},
 "encoding":{
  "x":{"field":"x0","type":"quantitative"},"x2":{"field":"x1"},
  "y":{"datum":0.35287,"type":"quantitative"},"y2":{"datum":0.36316},
  "fill":{"field":"k","type":"nominal","legend":null,"scale":{"domain":["y","w","g"],"range":["#aea128","#dddddd","#b2b2b2"]}}}},
{"data":{"name":"tags"},"mark":{"type":"rect","cornerRadiusTopRight":7,"cornerRadiusBottomRight":7},
 "encoding":{
  "x":{"datum":322.2,"type":"quantitative"},"x2":{"datum":335.53},
  "y":{"field":"p0","type":"quantitative"},"y2":{"field":"p1"},
  "fill":{"field":"k","type":"nominal","legend":null,"scale":{"domain":["white","red","yellow","magenta","green"],"range":["#ffffff","#f23645","#ffeb3b","#f535dc","#14f53c"]}}}},
{"data":{"name":"textsCenter"},"mark":{"type":"text","font":"Noto Sans","align":"center","baseline":"middle"},
 "encoding":{
  "x":{"field":"x","type":"quantitative"},"y":{"field":"p","type":"quantitative"},
  "text":{"field":"t"},
  "size":{"field":"k","type":"nominal","legend":null,"scale":{"type":"ordinal","domain":["dark","wh","usdt","xrp","time"],"range":[27,27.5,28,108,29]}},
  "color":{"field":"k","type":"nominal","legend":null,"scale":{"domain":["dark","wh","usdt","xrp","time"],"range":["#111111","#ffffff","#787b86","#14f03c","#111111"]}}}},
{"data":{"name":"textsStart"},"mark":{"type":"text","font":"Noto Sans","align":"left","baseline":"middle"},
 "encoding":{
  "x":{"field":"x","type":"quantitative"},"y":{"field":"p","type":"quantitative"},
  "text":{"field":"t"},
  "size":{"field":"k","type":"nominal","legend":null,"scale":{"type":"ordinal","domain":["short","longS","longB","foot","time"],"range":[37,31.3,35.4,32,28]}},
  "color":{"field":"k","type":"nominal","legend":null,"scale":{"domain":["short","longS","longB","foot","time"],"range":["#f23645","#14f03c","#14f03c","#131722","#111111"]}}}},
{"data":{"name":"sym"},"mark":{"type":"text","font":"DejaVu Sans","fontSize":30.8,"align":"left","baseline":"middle","color":"#6a6d78"},
 "encoding":{"x":{"field":"x","type":"quantitative"},"y":{"field":"p","type":"quantitative"},"text":{"field":"t"}}},
{"data":{"name":"hour"},"mark":{"type":"text","font":"Liberation Sans","fontSize":113,"align":"left","baseline":"alphabetic","color":"#ffffff"},
 "encoding":{"x":{"field":"x","type":"quantitative"},"y":{"field":"p","type":"quantitative"},"text":{"field":"t"}}},
{"data":{"name":"priceText"},"mark":{"type":"text","font":"Noto Sans","fontSize":29,"align":"right","baseline":"middle"},
 "encoding":{
  "x":{"datum":334.16,"type":"quantitative"},"y":{"field":"p","type":"quantitative"},
  "text":{"field":"t"},
  "color":{"field":"k","type":"nominal","legend":null,"scale":{"domain":["b","w"],"range":["#111111","#ffffff"]}}}}
]
}
